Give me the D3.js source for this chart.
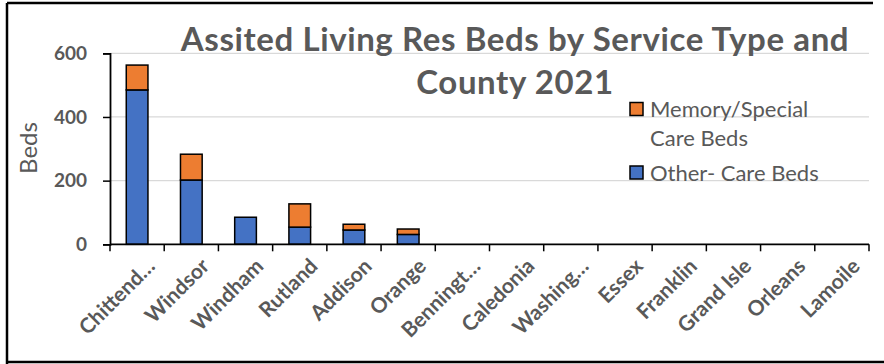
<!DOCTYPE html>
<html>
<head>
<meta charset="utf-8">
<script src="https://cdn.jsdelivr.net/npm/d3@7"></script>
<style>
  body { margin: 0; background: #fff; }
  svg text { font-family: Lato, "Noto Sans", sans-serif; fill: #595959; }
</style>
</head>
<body>
<svg id="chart" width="884" height="364"></svg>
<script>
// county names as shown on the axis (Excel truncated some of them)
var counties = ["Chittend…", "Windsor", "Windham", "Rutland", "Addison", "Orange",
    "Benningt…", "Caledonia", "Washing…", "Essex", "Franklin", "Grand Isle", "Orleans", "Lamoile"];
var otherBeds  = [485, 202, 85, 54, 45, 31, 0, 0, 0, 0, 0, 0, 0, 0];
var memoryBeds = [78, 81, 0, 73, 18, 17, 0, 0, 0, 0, 0, 0, 0, 0];
var yTicks = [0, 200, 400, 600];
var titleLines = ["Assited Living Res Beds by Service Type and", "County 2021"];

var colors = { other: "#4472c4", memory: "#ed7d31" };

var svg = d3.select("#chart");

// frame round the chart
var frame = svg.append("g").attr("stroke", "#000").attr("stroke-width", 2.5);
frame.append("line").attr("x1", 7).attr("x2", 873).attr("y1", 3).attr("y2", 3);
frame.append("line").attr("x1", 7).attr("x2", 7).attr("y1", 3).attr("y2", 364);
frame.append("line").attr("x1", 7).attr("x2", 884).attr("y1", 362).attr("y2", 362);

var plot = { left: 110, right: 869, top: 53.3, bottom: 244.3 };

var x = d3.scaleBand().domain(counties).range([plot.left, plot.right]).paddingInner(0.6).paddingOuter(0.3);
var xTick = d3.scaleBand().domain(counties).range([plot.left, plot.right]);
var y = d3.scaleLinear().domain([0, 600]).range([plot.bottom, plot.top]);

// gridlines
svg.append("g").selectAll("line").data(yTicks.filter(d => d > 0)).join("line")
    .attr("x1", plot.left).attr("x2", plot.right)
    .attr("y1", d => y(d)).attr("y2", d => y(d))
    .attr("stroke", "#d9d9d9").attr("stroke-width", 1.3);

// stacked bars
var rows = counties.map(function (c, i) {
    return { county: c, other: otherBeds[i], memory: memoryBeds[i] };
});
var stacked = d3.stack().keys(["other", "memory"])(rows);

svg.append("g").selectAll("g").data(stacked).join("g")
    .attr("fill", d => colors[d.key])
    .selectAll("rect").data(d => d.filter(p => p[1] - p[0] > 0)).join("rect")
    .attr("x", d => x(d.data.county))
    .attr("width", x.bandwidth())
    .attr("y", d => y(d[1]))
    .attr("height", d => y(d[0]) - y(d[1]))
    .attr("stroke", "#000").attr("stroke-width", 1.5);

// y axis
var yAxis = svg.append("g").attr("transform", "translate(" + plot.left + ",0)")
    .call(d3.axisLeft(y).tickValues(yTicks).tickSize(7).tickPadding(16));
yAxis.select(".domain").attr("stroke", "#000").attr("stroke-width", 1.8);
yAxis.selectAll(".tick line").attr("stroke", "#000").attr("stroke-width", 1.5);
yAxis.selectAll(".tick text").attr("fill", "#595959")
    .style("font-family", "Lato").style("font-size", "19px").style("font-weight", "bold");

// x axis with ticks between categories
var xAxis = svg.append("g");
xAxis.append("line").attr("x1", plot.left).attr("x2", plot.right)
    .attr("y1", plot.bottom).attr("y2", plot.bottom)
    .attr("stroke", "#000").attr("stroke-width", 1.8);
var edges = counties.map(c => xTick(c)).concat([plot.right]);
xAxis.selectAll("line.tk").data(edges).join("line").attr("class", "tk")
    .attr("x1", d => d).attr("x2", d => d)
    .attr("y1", plot.bottom).attr("y2", plot.bottom + 7)
    .attr("stroke", "#000").attr("stroke-width", 1.5);
xAxis.selectAll("text").data(counties).join("text")
    .attr("transform", d => "translate(" + (xTick(d) + xTick.bandwidth() / 2 + 14) + "," + (plot.bottom + 18) + ") rotate(-45)")
    .attr("text-anchor", "end")
    .attr("dy", "0.35em")
    .style("font-size", "21px").style("font-weight", "bold")
    .text(d => d);

// y axis title
svg.append("text")
    .attr("transform", "translate(29,148) rotate(-90)")
    .attr("text-anchor", "middle").attr("dy", "0.35em")
    .style("font-size", "24px")
    .text("Beds");

// chart title
svg.append("g").selectAll("text").data(titleLines).join("text")
    .attr("x", 515).attr("y", (d, i) => 51 + i * 43)
    .attr("text-anchor", "middle")
    .style("font-size", "33px").style("font-weight", "bold")
    .style("letter-spacing", "0.6px")
    .text(d => d);

// legend
var legend = svg.append("g");
var legendItems = [
    { key: "memory", lines: ["Memory/Special", "Care Beds"], y: 109 },
    { key: "other", lines: ["Other- Care Beds"], y: 172.5 }
];
legendItems.forEach(function (item) {
    legend.append("rect")
        .attr("x", 630).attr("y", item.y - 6.5).attr("width", 13).attr("height", 13)
        .attr("fill", colors[item.key]).attr("stroke", "#000").attr("stroke-width", 1.5);
    item.lines.forEach(function (line, j) {
        legend.append("text")
            .attr("x", 650).attr("y", item.y + 8 + j * 29)
            .style("font-size", "22px")
            .text(line);
    });
});
</script>
</body>
</html>
